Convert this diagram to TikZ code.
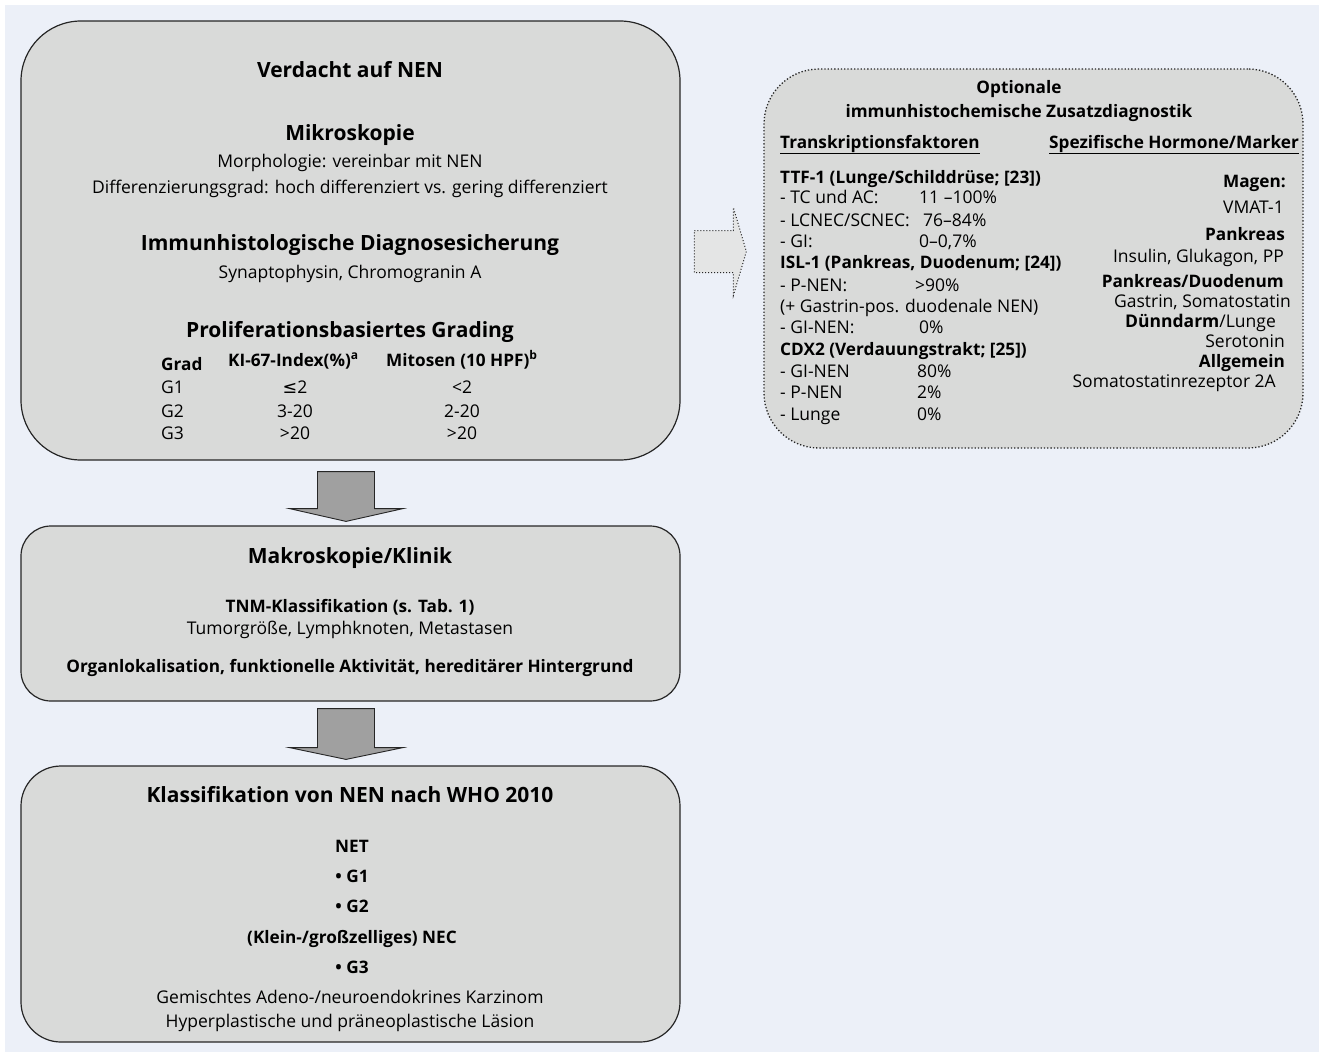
\documentclass[tikz,border=0pt]{standalone}
\usepackage{fontspec}
\setmainfont{Open Sans}
\newfontfamily\symfont{DejaVu Sans}
\usetikzlibrary{calc}

\definecolor{pagebg}{HTML}{ECF0F8}
\definecolor{boxgrey}{HTML}{D9DAD9}
\definecolor{arrowgrey}{HTML}{A0A0A0}
\definecolor{optgrey}{HTML}{E4E5E5}

\tikzset{
  mainbox/.style={draw=black!85, line width=1.2pt, fill=boxgrey, inner sep=0pt},
  optbox/.style={draw=black!85, line width=1.3pt, dotted, fill=boxgrey, inner sep=0pt},
  blockarrow/.style={draw=black!85, line width=0.9pt, fill=arrowgrey},
  optarrow/.style={draw=black!85, line width=1pt, dotted, fill=optgrey},
  txt/.style={anchor=base, inner sep=0pt, font=\fontsize{17.5}{21}\selectfont},
  btxt/.style={txt, font=\fontsize{17.2}{21}\selectfont\bfseries},
  head/.style={txt, font=\fontsize{21}{25}\selectfont\bfseries},
}

\begin{document}
\begin{tikzpicture}[x=1pt,y=-1pt]
  \useasboundingbox (0,0) rectangle (1319,1052);
  \fill[pagebg] (5,5) rectangle (1319,1052);

  % Boxes
  \node[mainbox, rounded corners=60pt, minimum width=659pt, minimum height=439pt] (verdacht) at (350.5,240.5) {};
  \node[mainbox, rounded corners=30pt, minimum width=659pt, minimum height=175pt] (makro) at (350.5,613.5) {};
  \node[mainbox, rounded corners=40pt, minimum width=659pt, minimum height=276pt] (klass) at (350.5,904) {};
  \node[optbox, rounded corners=55pt, minimum width=539pt, minimum height=379pt] (optional) at (1033.5,258.5) {};

  % Block arrows between the boxes
  \coordinate (a1) at ($(verdacht.south)+(-4.5,11)$);
  \draw[blockarrow] (a1) ++(-28.5,0) -- ++(0,37) -- ++(-28,0) -- ($(makro.north)+(-4.5,-4)$)
    -- ($(a1)+(57,37)$) -- ++(-28.5,0) -- ++(0,-37) -- cycle;
  \coordinate (a2) at ($(makro.south)+(-4.5,7)$);
  \draw[blockarrow] (a2) ++(-28.5,0) -- ++(0,39) -- ++(-28,0) -- ($(klass.north)+(-4.5,-6)$)
    -- ($(a2)+(57,39)$) -- ++(-28.5,0) -- ++(0,-39) -- cycle;
  \coordinate (a3) at ($(optional.west)+(-69,-7)$);
  \draw[optarrow] (a3) ++(0,-21) -- ++(39,0) -- ++(0,-23) -- ($(optional.west)+(-17,-7)$)
    -- ($(a3)+(39,44)$) -- ++(0,-23) -- ++(-39,0) -- cycle;

  % Verdacht auf NEN
  \node[head] (t11) at (350,77) {Verdacht auf NEN};
  \node[head] (t12) at (350,140) {Mikroskopie};
  \node[txt] (t13) at (350,167) {Morphologie: vereinbar mit NEN};
  \node[txt] (t14) at (350,193) {Differenzierungsgrad: hoch differenziert vs. gering differenziert};
  \node[head] (t15) at (350,250) {Immunhistologische Diagnosesicherung};
  \node[txt] (t16) at (350,278) {Synaptophysin, Chromogranin A};
  \node[head] (t17) at (350,337) {Proliferationsbasiertes Grading};
  % Grading table
  \node[btxt, anchor=base west] (gr0) at (161,370) {Grad};
  \node[btxt, anchor=base west] (ki0) at (228,366) {KI-67-Index(\%)\textsuperscript{a}};
  \node[btxt, anchor=base west] (mi0) at (386,366) {Mitosen (10 HPF)\textsuperscript{b}};
  \node[txt, anchor=base west] (gr1) at (161,393) {G1};
  \node[txt] (ki1) at (295,393) {{\symfont ≤}2};
  \node[txt] (mi1) at (462,393) {<2};
  \node[txt, anchor=base west] (gr2) at (161,417) {G2};
  \node[txt] (ki2) at (295,417) {3-20};
  \node[txt] (mi2) at (462,417) {2-20};
  \node[txt, anchor=base west] (gr3) at (161,439) {G3};
  \node[txt] (ki3) at (295,439) {>20};
  \node[txt] (mi3) at (462,439) {>20};

  % Makroskopie/Klinik
  \node[head] (t21) at (350,563) {Makroskopie/Klinik};
  \node[btxt] (t22) at (350,612) {TNM-Klassifikation (s. Tab. 1)};
  \node[txt] (t23) at (350,634) {Tumorgröße, Lymphknoten, Metastasen};
  \node[btxt] (t24) at (350,672) {Organlokalisation, funktionelle Aktivität, hereditärer Hintergrund};

  % Klassifikation
  \node[head] (t31) at (350,802) {Klassifikation von NEN nach WHO 2010};
  \node[btxt] (t32) at (352,852) {NET};
  \node[btxt] (t33) at (352,882) {\textbullet\ G1};
  \node[btxt] (t34) at (352,912) {\textbullet\ G2};
  \node[btxt] (t35) at (352,943) {(Klein-/großzelliges) NEC};
  \node[btxt] (t36) at (352,973) {\textbullet\ G3};
  \node[txt] (t37) at (350,1003) {Gemischtes Adeno-/neuroendokrines Karzinom};
  \node[txt] (t38) at (350,1027) {Hyperplastische und präneoplastische Läsion};

  % Optionale Zusatzdiagnostik
  \node[btxt] (o1) at (1019,93) {Optionale};
  \node[btxt] (o2) at (1019,117) {immunhistochemische Zusatzdiagnostik};
  \node[btxt, anchor=base west] (o3) at (780,148) {\underline{Transkriptionsfaktoren}};
  \node[btxt, anchor=base east] (o4) at (1299,148) {\underline{Spezifische Hormone/Marker}};
  % left column
  \node[btxt, anchor=base west] (l1) at (780,183) {TTF-1 (Lunge/Schilddrüse; [23])};
  \node[txt, anchor=base west] (l2) at (780,203) {- TC und AC:};
  \node[txt, anchor=base west] (l3) at (780,226) {- LCNEC/SCNEC:};
  \node[txt, anchor=base west] (l4) at (780,247) {- GI:};
  \node[btxt, anchor=base west] (l5) at (780,268) {ISL-1 (Pankreas, Duodenum; [24])};
  \node[txt, anchor=base west] (l6) at (780,291) {- P-NEN:};
  \node[txt, anchor=base west] (l7) at (780,312) {(+ Gastrin-pos. duodenale NEN)};
  \node[txt, anchor=base west] (l8) at (780,333) {- GI-NEN:};
  \node[btxt, anchor=base west] (l9) at (780,355) {CDX2 (Verdauungstrakt; [25])};
  \node[txt, anchor=base west] (l10) at (780,377) {- GI-NEN};
  \node[txt, anchor=base west] (l11) at (780,398) {- P-NEN};
  \node[txt, anchor=base west] (l12) at (780,420) {- Lunge};
  \node[txt, anchor=base west] (v2) at (919,203) {11 –100\%};
  \node[txt, anchor=base west] (v3) at (923,226) {76–84\%};
  \node[txt, anchor=base west] (v4) at (919,247) {0–0,7\%};
  \node[txt, anchor=base west] (v6) at (915,291) {>90\%};
  \node[txt, anchor=base west] (v8) at (919,333) {0\%};
  \node[txt, anchor=base west] (v10) at (917,377) {80\%};
  \node[txt, anchor=base west] (v11) at (917,398) {2\%};
  \node[txt, anchor=base west] (v12) at (917,420) {0\%};
  % right column
  \node[btxt, anchor=base east] (r1) at (1286,187) {Magen:};
  \node[txt, anchor=base east] (r2) at (1284,213) {VMAT-1};
  \node[btxt, anchor=base east] (r3) at (1285,240) {Pankreas};
  \node[txt, anchor=base east] (r4) at (1284,262) {Insulin, Glukagon, PP};
  \node[btxt, anchor=base east] (r5) at (1284,287) {Pankreas/Duodenum};
  \node[txt, anchor=base east] (r6) at (1291,307) {Gastrin, Somatostatin};
  \node[txt, anchor=base east] (r7) at (1276,327) {\textbf{Dünndarm}/Lunge};
  \node[txt, anchor=base east] (r8) at (1285,347) {Serotonin};
  \node[btxt, anchor=base east] (r9) at (1285,367) {Allgemein};
  \node[txt, anchor=base east] (r10) at (1276,387) {Somatostatinrezeptor 2A};
\end{tikzpicture}
\end{document}
